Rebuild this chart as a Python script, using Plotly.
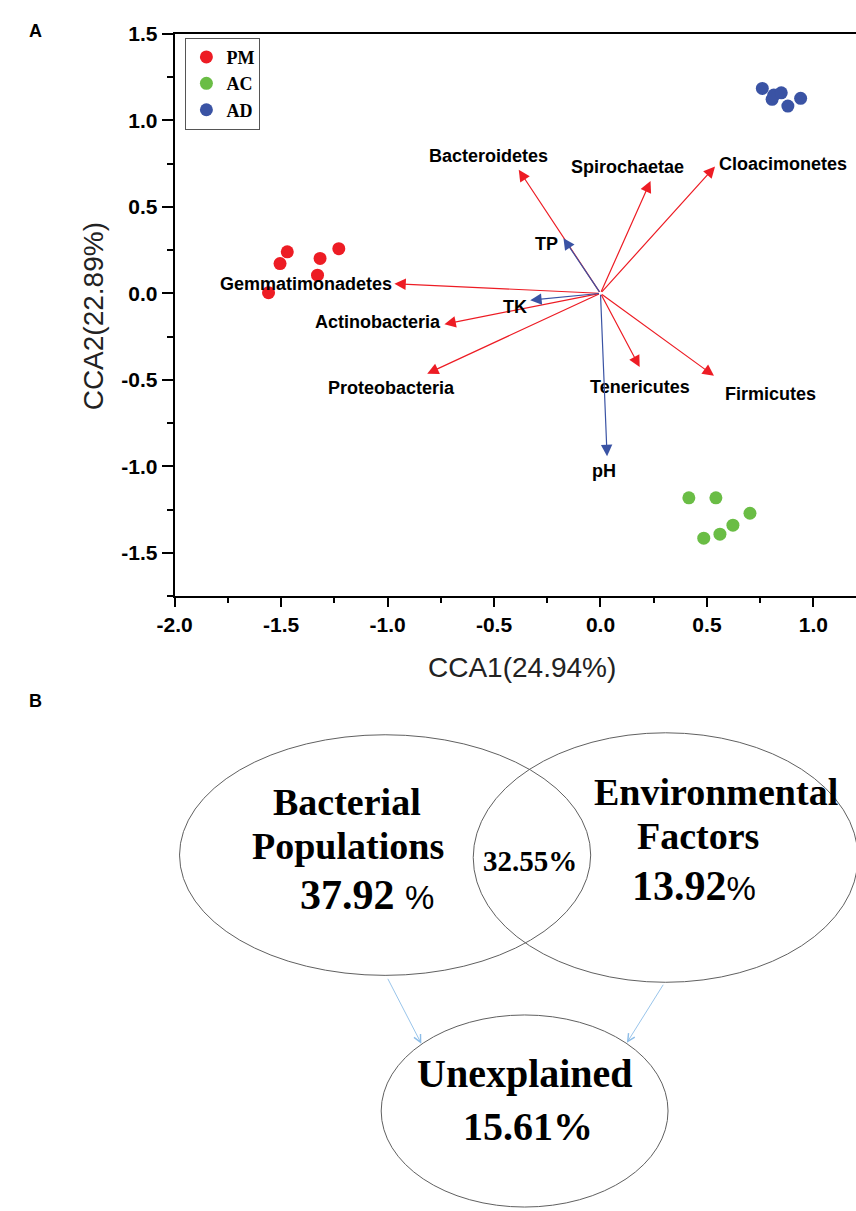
import plotly.graph_objects as go

# ---------------- data ----------------
groups = ["PM", "AC", "AD"]
pm_x = [-1.559, -1.505, -1.471, -1.329, -1.317, -1.229]
pm_y = [0.004, 0.172, 0.240, 0.105, 0.202, 0.258]
ac_x = [0.415, 0.542, 0.702, 0.622, 0.561, 0.485]
ac_y = [-1.182, -1.182, -1.271, -1.340, -1.392, -1.415]
ad_x = [0.760, 0.806, 0.814, 0.849, 0.880, 0.940]
ad_y = [1.184, 1.121, 1.146, 1.159, 1.082, 1.127]

species = ["Bacteroidetes", "Spirochaetae", "Cloacimonetes", "Gemmatimonadetes",
           "Actinobacteria", "Proteobacteria", "Tenericutes", "Firmicutes"]
species_x = [-0.384, 0.235, 0.538, -0.968, -0.733, -0.814, 0.184, 0.533]
species_y = [0.714, 0.649, 0.733, 0.056, -0.178, -0.464, -0.426, -0.477]

env = ["TP", "TK", "pH"]
env_x = [-0.174, -0.330, 0.031]
env_y = [0.319, -0.040, -0.941]

x_ticks = [-2.0, -1.5, -1.0, -0.5, 0.0, 0.5, 1.0]
x_ticktext = ["-2.0", "-1.5", "-1.0", "-0.5", "0.0", "0.5", "1.0"]
y_ticks = [-1.5, -1.0, -0.5, 0.0, 0.5, 1.0, 1.5]
y_ticktext = ["-1.5", "-1.0", "-0.5", "0.0", "0.5", "1.0", "1.5"]

x_title = "CCA1(24.94%)"
y_title = "CCA2(22.89%)"

venn_names = ["Bacterial Populations", "Shared", "Environmental Factors", "Unexplained"]
venn_values = [37.92, 32.55, 13.92, 15.61]

# ---------------- styles ----------------
W, H = 856, 1211
RED = "#ED1C24"
GREEN = "#6ABD45"
BLUE = "#3A53A4"
ARROW_BLUE = "#3A53A4"
LIGHT_BLUE = "#8DBDE8"
SANS = "Liberation Sans"
SERIF = "Liberation Serif"
group_colors = [RED, GREEN, BLUE]

# label placement for arrow labels: (xanchor, xshift, yshift) in pixels
label_style = {
    "Bacteroidetes": ("center", -30, 14),
    "Spirochaetae": ("center", -23, 14),
    "Cloacimonetes": ("left", 2, 3),
    "Gemmatimonadetes": ("right", 0, 0),
    "Actinobacteria": ("right", -1, 2),
    "Proteobacteria": ("center", -36, -14),
    "Tenericutes": ("center", 0, -20),
    "Firmicutes": ("left", 9, -18),
    "TP": ("right", -3, -6),
    "TK": ("right", -1, -7),
    "pH": ("center", -3, -15),
}

# plot area of panel A in pixels
A_left, A_top, A_bottom = 160, 22, 590

fig = go.Figure()

for name, xs, ys, col in zip(groups, [pm_x, ac_x, ad_x], [pm_y, ac_y, ad_y], group_colors):
    fig.add_trace(go.Scatter(x=xs, y=ys, mode="markers", name=name,
                             marker=dict(color=col, size=13, line=dict(width=0)),
                             xaxis="x", yaxis="y"))

# arrows
def add_arrows(names, xs, ys, color):
    for n, x, y in zip(names, xs, ys):
        fig.add_annotation(x=x, y=y, ax=0, ay=0, xref="x", yref="y", axref="x", ayref="y",
                           text="", showarrow=True, arrowhead=2, arrowsize=1.9,
                           arrowwidth=1.2, arrowcolor=color, standoff=0, startstandoff=0)
        xa, xs_, ys_ = label_style[n]
        fig.add_annotation(x=x, y=y, xref="x", yref="y", text=n, showarrow=False,
                           xanchor=xa, yanchor="middle", xshift=xs_, yshift=ys_,
                           font=dict(family=SANS, size=18, color="black", weight="bold"))

add_arrows(species, species_x, species_y, RED)
add_arrows(env, env_x, env_y, ARROW_BLUE)

# axis titles & panel labels
fig.add_annotation(x=515 / W, y=1 - 662 / H, xref="paper", yref="paper", text=x_title,
                   showarrow=False, font=dict(family=SANS, size=28, color="#222"),
                   xanchor="center", yanchor="middle")
fig.add_annotation(x=78 / W, y=1 - 307 / H, xref="paper", yref="paper", text=y_title,
                   showarrow=False, textangle=-90, font=dict(family=SANS, size=28, color="#222"),
                   xanchor="center", yanchor="middle")
fig.add_annotation(x=18 / W, y=1 - 19 / H, xref="paper", yref="paper", text="A",
                   showarrow=False, font=dict(family=SANS, size=18, color="black", weight="bold"),
                   xanchor="center", yanchor="middle")
fig.add_annotation(x=18 / W, y=1 - 696 / H, xref="paper", yref="paper", text="B",
                   showarrow=False, font=dict(family=SANS, size=18, color="black", weight="bold"),
                   xanchor="center", yanchor="middle")

# ---------------- panel B (pixel-like axes) ----------------
ELL = "#606060"
ellipses = [(165, 730, 585, 973), (465, 728, 858, 980), (371, 1013, 664, 1207)]
for x0, y0, x1, y1 in ellipses:
    fig.add_shape(type="circle", xref="x2", yref="y2", x0=x0, x1=x1, y0=y0, y1=y1,
                  line=dict(color=ELL, width=1), fillcolor="rgba(0,0,0,0)")

for (x0, y0, x1, y1) in [(377, 975, 412, 1042), (660, 981, 622, 1041)]:
    fig.add_annotation(x=x1, y=y1, ax=x0, ay=y0, xref="x2", yref="y2", axref="x2", ayref="y2",
                       text="", showarrow=True, arrowhead=5, arrowsize=1.6, arrowwidth=0.9,
                       arrowcolor=LIGHT_BLUE, standoff=0)

big = dict(family=SERIF, size=38, color="black", weight="bold")
num = dict(family=SERIF, size=42, color="black", weight="bold")
low = dict(family=SERIF, size=40, color="black", weight="bold")
pct_span = ('<span style="font-family:Liberation Sans;font-weight:normal;'
            'font-size:33px">%</span>')
venn_texts = [
    ("Bacterial", 336, 798, big),
    ("Populations", 337, 842, big),
    (f"{venn_values[0]:.2f} " + pct_span, 356, 892, num),
    (f"{venn_values[1]:.2f}%", 523, 857, dict(family=SERIF, size=29, color="black", weight="bold")),
    ("Environmental", 713, 788, big),
    ("Factors", 695, 832, big),
    (f"{venn_values[2]:.2f}" + pct_span, 691, 883, num),
    ("Unexplained", 518, 1072, low),
    (f"{venn_values[3]:.2f}%", 521, 1126, low),
]
for t, x, y, f in venn_texts:
    fig.add_annotation(x=x, y=y, xref="x2", yref="y2", text=t, showarrow=False,
                       xanchor="center", yanchor="middle", font=f)

# ---------------- layout ----------------
axis_common = dict(showgrid=False, zeroline=False, linecolor="black", linewidth=2,
                   ticks="outside", tickwidth=2, tickcolor="black",
                   tickfont=dict(family=SANS, size=21, color="black", weight="bold"))

fig.update_layout(
    width=W, height=H,
    margin=dict(l=0, r=0, t=0, b=0),
    paper_bgcolor="white", plot_bgcolor="white",
    showlegend=True,
    legend=dict(x=171 / W, y=1 - 26 / H, xanchor="left", yanchor="top",
                bordercolor="#555", borderwidth=1, bgcolor="white",
                font=dict(family=SERIF, size=18, color="black", weight="bold"),
                itemwidth=30),
    xaxis=dict(domain=[A_left / W, 1.0], range=[-2.0, 1.2],
               tickvals=x_ticks, ticktext=x_ticktext, ticklen=9, mirror=True,
               showline=True,
               minor=dict(dtick=0.25, tick0=0, ticks="outside", ticklen=5, tickwidth=2,
                          tickcolor="black", showgrid=False),
               **axis_common),
    yaxis=dict(domain=[1 - A_bottom / H, 1 - A_top / H], range=[-1.75, 1.5],
               tickvals=y_ticks, ticktext=y_ticktext, ticklen=11, showline=True,
               minor=dict(dtick=0.25, tick0=0, ticks="outside", ticklen=6, tickwidth=2,
                          tickcolor="black", showgrid=False),
               **axis_common),
    xaxis2=dict(domain=[0, 1], range=[0, W], visible=False, anchor="y2"),
    yaxis2=dict(domain=[0, 1 - 690 / H], range=[H, 690], visible=False, anchor="x2"),
)

fig.write_html("out.html", config={"displayModeBar": False},
               post_script="document.body.style.margin='0';")
